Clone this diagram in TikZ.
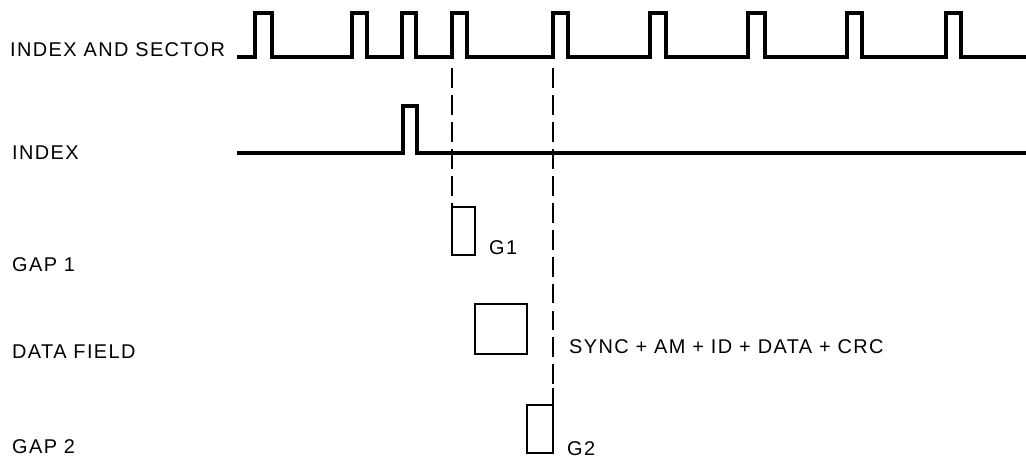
\documentclass[tikz,border=0pt]{standalone}
\usepackage{fontspec}
\setmainfont{Liberation Sans}
\usetikzlibrary{positioning}

\begin{document}
\begin{tikzpicture}[
  x=0.03cm,y=-0.03cm,
  font=\fontsize{17}{19}\selectfont\addfontfeature{LetterSpace=7},
  lbl/.style={anchor=west,inner sep=0pt},
  wave/.style={line width=3pt,line join=miter},
  gatebox/.style={draw,line width=2pt},
  guide/.style={line width=1.8pt,dash pattern=on 17pt off 6pt}
]
\useasboundingbox (0,0) rectangle (1026,462);

% row labels
\node[lbl] (lsec) at (10,50) {INDEX AND SECTOR};
\node[lbl] (lidx) at (12,153) {INDEX};
\node[lbl] (lg1) at (12,265) {GAP 1};
\node[lbl] (ldata) at (12,352) {DATA FIELD};
\node[lbl] (lg2) at (12,447) {GAP 2};

% index and sector pulses
\draw[wave] (237,57)
  foreach \r/\f in {255/272,352/367,402/416,452/467,553/568,650/666,748/765,847/862,946/961}
  { -- (\r,57) -- (\r,13) -- (\f,13) -- (\f,57) } -- (1026,57);

% index pulse
\draw[wave] (237,153) -- (403,153) -- (403,106) -- (417,106) -- (417,153) -- (1026,153);

% gap 1, data field, gap 2
\coordinate (g1top) at (452,207);
\coordinate (g2top) at (553,388);
\draw[gatebox] (g1top) rectangle (475,255);
\draw[gatebox] (475,304) rectangle (527,354);
\draw[gatebox] (527,405) rectangle (553,453);
\draw[gatebox] (g2top) -- (553,405);

\node[lbl] (g1) at (489,248) {G1};
\node[lbl] (g2) at (567,449) {G2};
\node[lbl] (fields) at (569,347) {SYNC + AM + ID + DATA + CRC};

% timing guides
\coordinate (s1) at (452,68);
\coordinate (s2) at (553,68);
\draw[guide] (s1) -- (g1top);
\draw[guide] (s2) -- (g2top);
\end{tikzpicture}
\end{document}
